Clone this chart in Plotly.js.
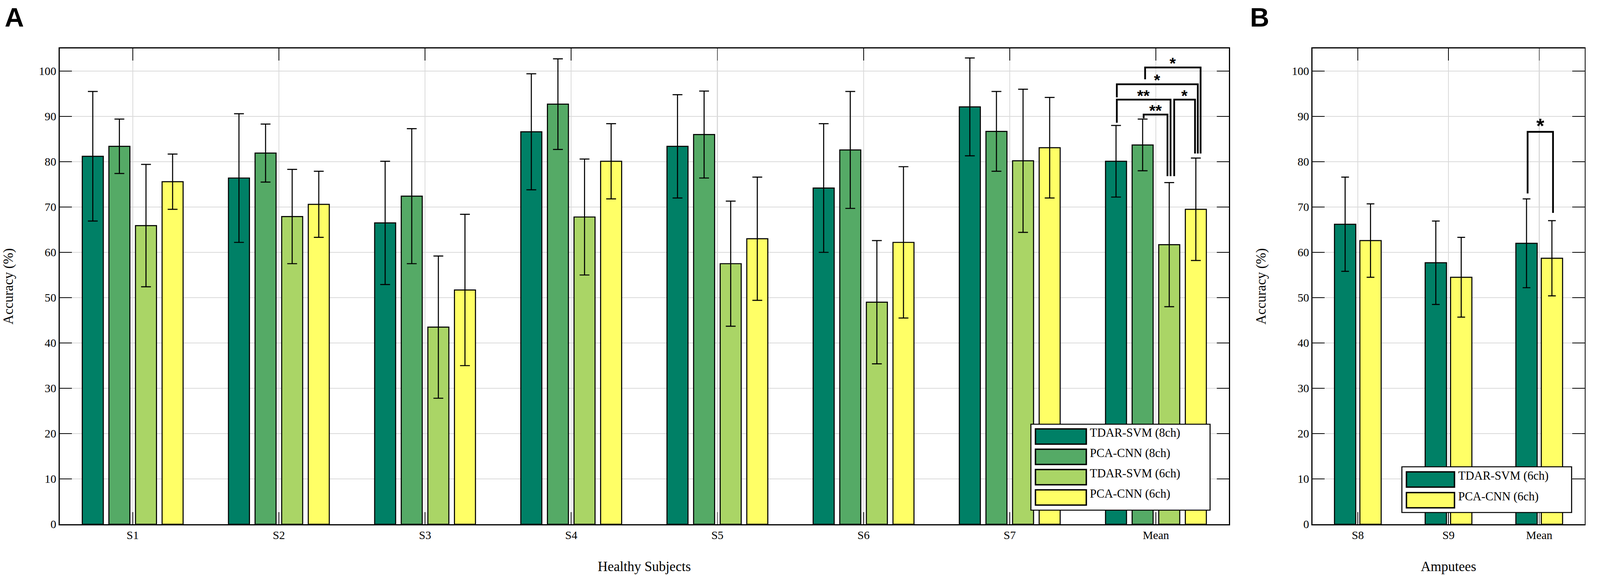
<!DOCTYPE html>
<html>
<head>
<meta charset="utf-8">
<script src="https://cdn.plot.ly/plotly-3.0.1.min.js"></script>
<style>html,body{margin:0;padding:0;background:#fff;overflow:hidden;}</style>
</head>
<body>
<div id="chart"></div>
<script>
var healthyLabels = ['S1', 'S2', 'S3', 'S4', 'S5', 'S6', 'S7', 'Mean'];
var amputeeLabels = ['S8', 'S9', 'Mean'];
var seriesNames = ['TDAR-SVM (8ch)', 'PCA-CNN (8ch)', 'TDAR-SVM (6ch)', 'PCA-CNN (6ch)'];

// healthy subjects, mean accuracy and std
var tdarSvm8 = [81.2, 76.4, 66.5, 86.6, 83.4, 74.2, 92.1, 80.1];
var tdarSvm8Sd = [14.3, 14.2, 13.6, 12.8, 11.4, 14.2, 10.8, 7.9];
var pcaCnn8 = [83.4, 81.9, 72.4, 92.7, 86.0, 82.6, 86.7, 83.7];
var pcaCnn8Sd = [6.0, 6.4, 14.9, 10.0, 9.6, 12.9, 8.8, 5.7];
var tdarSvm6 = [65.9, 67.9, 43.5, 67.8, 57.5, 49.0, 80.2, 61.7];
var tdarSvm6Sd = [13.5, 10.4, 15.7, 12.8, 13.8, 13.6, 15.8, 13.7];
var pcaCnn6 = [75.6, 70.6, 51.7, 80.1, 63.0, 62.2, 83.1, 69.5];
var pcaCnn6Sd = [6.1, 7.3, 16.7, 8.3, 13.6, 16.7, 11.1, 11.3];

// amputees
var ampTdarSvm6 = [66.2, 57.7, 62.0];
var ampTdarSvm6Sd = [10.4, 9.2, 9.8];
var ampPcaCnn6 = [62.6, 54.5, 58.7];
var ampPcaCnn6Sd = [8.1, 8.8, 8.3];

// significance: [series a, series b, bracket level, leg a end, leg b end, label]
var healthySig = [
  [1, 2, 90.4, 89.6, 76.8, '**'],
  [0, 2, 93.7, 88.6, 76.8, '**'],
  [2, 3, 93.7, 76.8, 81.8, '*'],
  [0, 3, 97.1, 94.2, 81.8, '*'],
  [1, 3, 100.8, 98.2, 81.8, '*']
];
var amputeeSig = [
  [0, 1, 86.6, 73.0, 68.7, '*']
];

// the picture is laid out on a 4563 x 1472 grid and scaled to the window
var RW = 4563, RH = 1472;
var W = window.innerWidth || RW, H = window.innerHeight || RH;
var k = Math.min(W / RW, H / RH);
var ky = H / RH;
document.getElementById('chart').style.width = W + 'px';
document.getElementById('chart').style.height = H + 'px';
function px(x) { return x / RW; }
function py(y) { return 1 - y / RH; }
function sz(v) { return v * k; }

// MATLAB "summer" colours
var colors = ['rgb(0,128,102)', 'rgb(85,170,102)', 'rgb(170,213,102)', 'rgb(255,255,102)'];
var serif = 'Liberation Serif, Times New Roman, serif';
var sans = 'Liberation Sans, Arial, sans-serif';

var healthyY = [tdarSvm8, pcaCnn8, tdarSvm6, pcaCnn6];
var healthySd = [tdarSvm8Sd, pcaCnn8Sd, tdarSvm6Sd, pcaCnn6Sd];

var data = [];
for (var i = 0; i < 4; i++) {
  data.push({
    type: 'bar', x: healthyLabels, y: healthyY[i], name: seriesNames[i],
    xaxis: 'x', yaxis: 'y', showlegend: false,
    marker: {color: colors[i], line: {color: '#000', width: sz(3)}},
    error_y: {type: 'data', array: healthySd[i], visible: true, color: '#000', thickness: sz(3), width: sz(14)}
  });
}

var ampBarWidth = 0.235;
var ampOffsets = [-0.2575, 0.0225];
var ampY = [ampTdarSvm6, ampPcaCnn6];
var ampSd = [ampTdarSvm6Sd, ampPcaCnn6Sd];
var ampColors = [colors[0], colors[3]];
var ampNames = [seriesNames[2], seriesNames[3]];
for (var j = 0; j < 2; j++) {
  data.push({
    type: 'bar', x: amputeeLabels, y: ampY[j], name: ampNames[j],
    xaxis: 'x2', yaxis: 'y2', showlegend: false,
    width: ampBarWidth, offset: ampOffsets[j],
    marker: {color: ampColors[j], line: {color: '#000', width: sz(3)}},
    error_y: {type: 'data', array: ampSd[j], visible: true, color: '#000', thickness: sz(3), width: sz(11)}
  });
}

var bargap = 0.272;
var slotA = (1 - bargap) / 4;
function centerA(cat, s) { return cat + (s - 1.5) * slotA; }
function centerB(cat, s) { return cat + ampOffsets[s] + ampBarWidth / 2; }

var shapes = [];
var annotations = [];

function addBracket(xref, yref, xa, xb, sig, fontSize, lift) {
  shapes.push({
    type: 'path', xref: xref, yref: yref, layer: 'above',
    path: 'M' + xa + ',' + sig[3] + 'L' + xa + ',' + sig[2] + 'L' + xb + ',' + sig[2] + 'L' + xb + ',' + sig[4],
    line: {color: '#000', width: sz(5)}
  });
  annotations.push({
    xref: xref, yref: yref, x: (xa + xb) / 2, y: sig[2] + lift,
    text: '<b>' + sig[5] + '</b>', showarrow: false, xanchor: 'center', yanchor: 'middle',
    font: {family: sans, size: sz(fontSize), color: '#000'}
  });
}

// small sideways shifts so stacked legs sit next to each other
var healthyLegShift = [[0.007, -0.012], [0.0055, 0.009], [0.034, -0.0055], [0.0055, 0.0135], [0.017, 0.0325]];
var meanA = healthyLabels.indexOf('Mean');
healthySig.forEach(function (s, n) {
  addBracket('x', 'y', centerA(meanA, s[0]) + healthyLegShift[n][0], centerA(meanA, s[1]) + healthyLegShift[n][1], s, 46, 0.9);
});
var meanB = amputeeLabels.indexOf('Mean');
amputeeSig.forEach(function (s) {
  addBracket('x2', 'y2', centerB(meanB, s[0]) + 0.012, centerB(meanB, s[1]) + 0.012, s, 58, 1.3);
});

// legends drawn as boxes with swatches
function drawLegend(box, names, cols, sw) {
  shapes.push({type: 'rect', xref: 'paper', yref: 'paper', layer: 'above',
    x0: px(box[0]), x1: px(box[1]), y0: py(box[2]), y1: py(box[3]),
    fillcolor: '#fff', line: {color: '#000', width: sz(3)}});
  for (var n = 0; n < names.length; n++) {
    var top = sw.top + n * sw.step;
    shapes.push({type: 'rect', xref: 'paper', yref: 'paper', layer: 'above',
      x0: px(sw.x0), x1: px(sw.x1), y0: py(top), y1: py(top + sw.h),
      fillcolor: cols[n], line: {color: '#000', width: sz(4)}});
    annotations.push({xref: 'paper', yref: 'paper', x: px(sw.tx), y: py(top + sw.h / 2 - 10),
      xanchor: 'left', yanchor: 'middle', showarrow: false, text: names[n],
      font: {family: serif, size: sz(34), color: '#000'}});
  }
}
drawLegend([2940, 3451, 1086, 1306], seriesNames, colors,
  {x0: 2953, x1: 3098, top: 1098, h: 39, step: 52, tx: 3106});
drawLegend([3998, 4482, 1195, 1312], ampNames, ampColors,
  {x0: 4011, x1: 4148, top: 1208, h: 39, step: 53, tx: 4156});

// panel letters
annotations.push({xref: 'paper', yref: 'paper', x: px(41), y: py(44), text: '<b>A</b>', showarrow: false,
  xanchor: 'center', yanchor: 'middle', font: {family: sans, size: sz(76), color: '#000'}});
annotations.push({xref: 'paper', yref: 'paper', x: px(3592), y: py(44), text: '<b>B</b>', showarrow: false,
  xanchor: 'center', yanchor: 'middle', font: {family: sans, size: sz(76), color: '#000'}});

function xAxis(domain, title, n) {
  return {
    domain: domain, type: 'category', range: [-0.5, n - 0.5],
    showline: true, linecolor: '#000', linewidth: sz(3), mirror: 'ticks',
    ticks: 'inside', ticklen: sz(35), tickwidth: sz(2), tickcolor: '#000',
    showgrid: true, gridcolor: '#dadada', gridwidth: sz(2.5), zeroline: false,
    tickfont: {family: serif, size: sz(33), color: '#000'},
    ticklabelstandoff: Math.max(0, 40 * ky - 21 * k),
    title: {text: title, font: {family: serif, size: sz(39), color: '#000'}, standoff: Math.max(0, 74 * ky - 23.6 * k)},
    fixedrange: true
  };
}
function yAxis(anchor) {
  return {
    domain: [py(1342), py(124)], anchor: anchor, range: [0, 105], tick0: 0, dtick: 10,
    showline: true, linecolor: '#000', linewidth: sz(3), mirror: 'ticks',
    ticks: 'inside', ticklen: sz(35), tickwidth: sz(3), tickcolor: '#000',
    showgrid: true, gridcolor: '#dadada', gridwidth: sz(2.5), zeroline: false,
    tickfont: {family: serif, size: sz(33), color: '#000'}, ticklabelstandoff: sz(30),
    title: {text: 'Accuracy (%)', font: {family: serif, size: sz(39), color: '#000'}, standoff: sz(62)},
    fixedrange: true
  };
}

var xa1 = xAxis([px(170), px(3505)], 'Healthy Subjects', healthyLabels.length);
xa1.anchor = 'y';
var xa2 = xAxis([px(3743), px(4519)], 'Amputees', amputeeLabels.length);
xa2.anchor = 'y2';

var layout = {
  width: W, height: H,
  margin: {l: 0, r: 0, t: 0, b: 0},
  paper_bgcolor: '#fff', plot_bgcolor: '#fff',
  barmode: 'group', bargap: bargap, bargroupgap: 0.21,
  showlegend: false,
  xaxis: xa1, yaxis: yAxis('x'),
  xaxis2: xa2, yaxis2: yAxis('x2'),
  shapes: shapes, annotations: annotations
};

Plotly.newPlot('chart', data, layout, {staticPlot: true});
</script>
</body>
</html>
